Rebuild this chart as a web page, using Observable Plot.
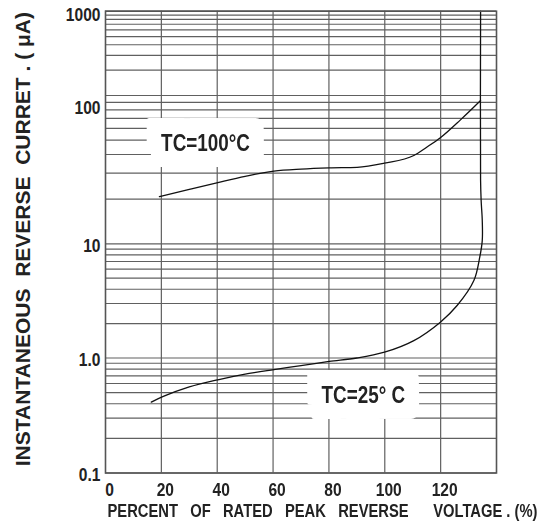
<!DOCTYPE html>
<html><head><meta charset="utf-8">
<script src="https://cdn.jsdelivr.net/npm/d3@7"></script>
<script src="https://cdn.jsdelivr.net/npm/@observablehq/plot@0.6"></script>
<style>
html,body{margin:0;padding:0;background:#fff;}
#chart svg text{white-space:pre;}
</style></head><body><div id="chart"></div>
<script>
// ---- data ----
const voltPct100 = [19.3, 30.0, 40.6, 50.0, 60.3, 70.0, 80.1, 90.1, 99.9, 110.4, 115.0, 119.9, 127.1, 134.3];
const current100 = [20.8, 23.3, 26.0, 28.5, 30.9, 31.9, 32.5, 32.8, 35.0, 39.4, 44.8, 51.9, 68.5, 92.5];

const voltPct25 = [16.4, 20.7, 30.0, 40.6, 50.0, 60.3, 70.0, 80.1, 90.0, 99.9, 110.4, 119.9, 125.9, 131.9, 134.0, 134.9, 134.9, 134.5, 134.3, 134.3];
const current25 = [0.413, 0.463, 0.56, 0.650, 0.725, 0.794, 0.86, 0.933, 1.00, 1.124, 1.42, 2.06, 2.88, 4.77, 7.63, 10.5, 14.4, 19.6, 26.7, 1000];

const xTicks = [0, 20, 40, 60, 80, 100, 120];
const xGrid = [20, 40, 60, 80, 100, 120];
const yDecades = [0.1, 1, 10, 100, 1000];
const yTickLabels = ["0.1", "1.0", "10", "100", "1000"];
const gridMultipliers = [1, 2, 3, 4, 5, 6, 7, 8, 9];

const curveLabels = ["TC=100\u00B0C", "TC=25\u00B0 C"];
const curveLabelX = [35.8, 92.3];
const curveLabelY = [47.5, 0.472];

const xTitle = "PERCENT   OF   RATED   PEAK   REVERSE      VOLTAGE . (%)";
const yTitle = "INSTANTANEOUS  REVERSE  CURRET . ( \u03BCA)";

// ---- derived tables ----
const yGrid = yDecades.slice(0, 4).flatMap(d => gridMultipliers.map(m => m * d)).concat([1000]);
const hot = voltPct100.map((v, i) => ({v, c: current100[i]}));
const cold = voltPct25.map((v, i) => ({v, c: current25[i]}));
const labels = curveLabels.map((t, i) => ({t, x: curveLabelX[i], y: curveLabelY[i]}));

const sans = '"Liberation Sans",Arial,sans-serif';
const gridColor = "#606060";
const tickFmt = d => yTickLabels[yDecades.indexOf(d)];

const chart = Plot.plot({
  width: 546,
  height: 528,
  marginLeft: 105, marginRight: 50, marginTop: 10.7, marginBottom: 55.5,
  style: {background: "#fff", fontFamily: sans, color: "#222"},
  x: {domain: [0, 140], range: [105, 496]},
  y: {type: "log", domain: yDecades, range: [472.5, 357.5, 243.3, 95, 10.7]},
  marks: [
    Plot.ruleY(yGrid, {stroke: gridColor, strokeWidth: 1.2}),
    Plot.ruleX(xGrid, {stroke: gridColor, strokeWidth: 1.2}),
    // white backing box behind each curve label (the label glyphs, dilated by a filter below)
    Plot.text(labels, {x: "x", y: "y", text: "t", fontSize: 23, fontWeight: "bold",
      fill: "white", stroke: "white", strokeWidth: 6}),
    Plot.line(hot, {x: "v", y: "c", curve: "monotone-x", stroke: "#111", strokeWidth: 1.3}),
    Plot.line(cold, {x: "v", y: "c", curve: "catmull-rom", stroke: "#111", strokeWidth: 1.3}),
    Plot.text(labels, {x: "x", y: "y", text: "t", fontSize: 23, fontWeight: "bold", fill: "#222"}),
    Plot.frame({stroke: "#555", strokeWidth: 1.6}),
    Plot.axisX(xTicks, {tickSize: 0, tickPadding: 10, dx: 4, fontSize: 19, fontWeight: "bold", label: null}),
    Plot.axisY([10, 1, 0.1], {tickSize: 0, tickPadding: 5, dy: 2, fontSize: 19, fontWeight: "bold", label: null, tickFormat: tickFmt}),
    Plot.axisY([100], {tickSize: 0, tickPadding: 5, dy: 12, fontSize: 19, fontWeight: "bold", label: null, tickFormat: tickFmt}),
    Plot.axisY([1000], {tickSize: 0, tickPadding: 5, dy: 4, fontSize: 19, fontWeight: "bold", label: null, tickFormat: tickFmt}),
    Plot.text([xTitle], {frameAnchor: "bottom-left", textAnchor: "start", lineAnchor: "middle",
      dx: 2, dy: 38.5, fontSize: 18, fontWeight: "bold", fill: "#222"}),
    Plot.text([yTitle], {frameAnchor: "left", textAnchor: "middle", lineAnchor: "middle", rotate: -90, dx: -82, dy: -3,
      fontSize: 21, fontWeight: "bold", fill: "#222"})
  ]
});

// narrow (condensed) lettering like the reference: squeeze glyphs horizontally about their anchor
d3.select(chart).selectAll("text").each(function () {
  const tr = this.getAttribute("transform");
  if (!tr || /rotate/.test(tr)) return;
  this.setAttribute("transform", tr + " scale(0.82,1)");
});

// rectangular white box: dilate the white label glyphs with a rectangular kernel
const svg = d3.select(chart);
const defs = svg.insert("defs", ":first-child");
defs.append("filter").attr("id", "labelBox")
  .attr("filterUnits", "userSpaceOnUse")
  .attr("x", 0).attr("y", 0).attr("width", 546).attr("height", 528)
  .append("feMorphology").attr("operator", "dilate").attr("radius", "12 13");
svg.selectAll('g[aria-label="text"]')
  .filter(function () { return this.getAttribute("fill") === "white"; })
  .attr("filter", "url(#labelBox)");

document.getElementById("chart").append(chart);
</script>
</body></html>
